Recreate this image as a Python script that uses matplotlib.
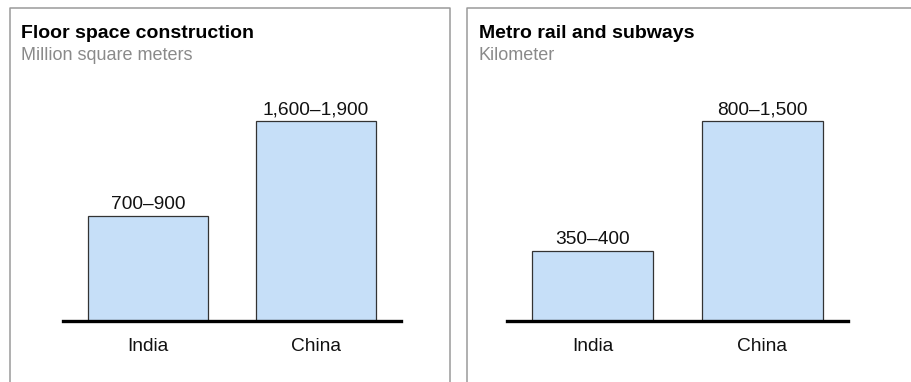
import matplotlib
matplotlib.use("Agg")
import matplotlib.pyplot as plt
from matplotlib.lines import Line2D

plt.rcParams['font.family'] = ['Liberation Sans', 'DejaVu Sans']

W, H = 912, 382

# Data (bar heights read relative to the China bar in each panel)
categories = ["India", "China"]
floor_heights = [0.525, 1.0]
floor_labels = ["700–900", "1,600–1,900"]
metro_heights = [0.347, 1.0]
metro_labels = ["350–400", "800–1,500"]

titles = ["Floor space construction", "Metro rail and subways"]
subtitles = ["Million square meters", "Kilometer"]

bar_color = "#c6dff8"
edge_color = "#333333"
frame_color = "#9a9a9a"
sub_color = "#8a8a8a"

fig = plt.figure(figsize=(W / 100, H / 100), dpi=100)

def px(x, y):
    return x / W, 1 - y / H

# panel frames (open at the bottom)
frame_lw = 1.1
for xs, ys in [([10, 10, 450.5, 450.5], [382, 8, 8, 382]),
               ([467.5, 467.5, 912], [382, 8, 8])]:
    fx = [x / W for x in xs]
    fy = [1 - y / H for y in ys]
    fig.add_artist(Line2D(fx, fy, color=frame_color, lw=frame_lw))

panels = [
    (63, 401, 21, floor_heights, floor_labels),
    (507, 848, 479, metro_heights, metro_labels),
]

base_y = 320.5
top_y = 100.0
ymax = 1.105

for i, (x0, x1, tx, heights, labels) in enumerate(panels):
    left, bottom = x0 / W, 1 - base_y / H
    ax = fig.add_axes([left, bottom, (x1 - x0) / W, (base_y - top_y) / H])
    xs = list(range(len(categories)))
    ax.bar(xs, heights, width=0.714, color=bar_color, edgecolor=edge_color,
           linewidth=0.9, zorder=2)
    ax.set_xlim(-0.506, 1.506)
    ax.set_ylim(0, ymax)
    for s in ["top", "left", "right"]:
        ax.spines[s].set_visible(False)
    ax.spines["bottom"].set_linewidth(2.4)
    ax.spines["bottom"].set_color("black")
    ax.spines["bottom"].set_zorder(3)
    ax.set_xticks([])
    ax.set_yticks([])
    ax.patch.set_visible(False)
    for x, h, lab in zip(xs, heights, labels):
        ax.annotate(lab, xy=(x, h), xytext=(0, 5), textcoords="offset points",
                    ha="center", va="baseline", fontsize=13.8, color="#111111")
    for x, cat in zip(xs, categories):
        ax.annotate(cat, xy=(x, 0), xytext=(0, -22), textcoords="offset points",
                    ha="center", va="baseline", fontsize=13.8, color="#111111")
    fig.text(*px(tx, 38), titles[i], fontsize=14, fontweight="bold",
             ha="left", va="baseline", color="black")
    fig.text(*px(tx, 60), subtitles[i], fontsize=13, ha="left",
             va="baseline", color=sub_color)

fig.savefig("out.png", dpi=100)
